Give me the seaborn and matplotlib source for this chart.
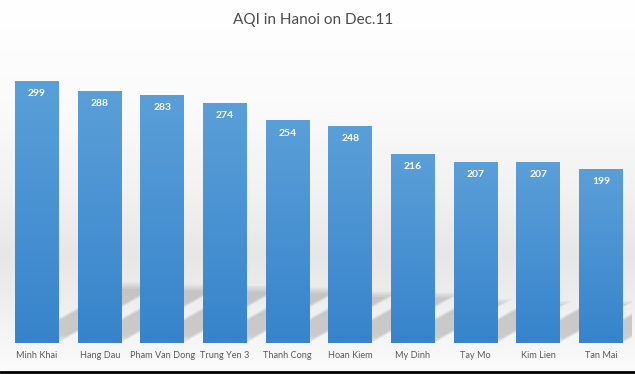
import numpy as np
import pandas as pd
import matplotlib
matplotlib.use("Agg")
import matplotlib.pyplot as plt
import seaborn as sns
from matplotlib.colors import LinearSegmentedColormap
from matplotlib.patches import Polygon

# data
stations = ["Minh Khai", "Hang Dau", "Pham Van Dong", "Trung Yen 3", "Thanh Cong",
            "Hoan Kiem", "My Dinh", "Tay Mo", "Kim Lien", "Tan Mai"]
aqi = [299, 288, 283, 274, 254, 248, 216, 207, 207, 199]
title = "AQI in Hanoi on Dec.11"

df = pd.DataFrame({"station": stations, "aqi": aqi})

sns.set_theme(style="white")
plt.rcParams["font.family"] = ["Lato", "DejaVu Sans"]

W, H = 635, 374
fig = plt.figure(figsize=(W / 100, H / 100), dpi=100)

# ---- soft grey background gradient (Excel style) ----
bg = fig.add_axes([0, 0, 1, 1], zorder=0)
bg_cmap = LinearSegmentedColormap.from_list("bg", [
    (0.00, "#ffffff"), (0.27, "#fbfbfb"), (0.53, "#f1f1f1"),
    (0.68, "#e7e7e7"), (0.78, "#ececec"), (0.91, "#f6f6f6"), (1.00, "#fbfbfb")])
bg.imshow(np.linspace(0, 1, 400)[:, None], cmap=bg_cmap, aspect="auto",
          extent=(0, 1, 0, 1))
bg.axis("off")

# ---- main axes ----
ax = fig.add_axes([5.7 / W, 31.3 / H, 626.7 / W, 297.5 / H], zorder=1)
ax.set_facecolor("none")

sns.barplot(data=df, x="station", y="aqi", ax=ax, width=0.7,
            color="#4a92d3", saturation=1, linewidth=0, zorder=3)

# vertical gradient inside each bar + long perspective shadow
bar_cmap = LinearSegmentedColormap.from_list("bar", ["#3784cc", "#5a9fd8"])
grad = np.linspace(0, 1, 200)[:, None]
for bar in list(ax.patches):
    x0, w, h = bar.get_x(), bar.get_width(), bar.get_height()
    im = ax.imshow(grad, cmap=bar_cmap, aspect="auto", origin="lower",
                   extent=(x0, x0 + w, 0, h), zorder=4)
    im.set_clip_path(bar)

    sh = 0.23 * h          # shadow height scales with the bar
    sdx = 0.00573 * h      # leaning to the upper right
    pts = np.array([[x0, 0], [x0 + w, 0], [x0 + w + sdx, sh], [x0 + sdx, sh]])
    c = pts.mean(axis=0)
    for f in [1.0, 0.93, 0.86, 0.79]:
        p = c + (pts - c) * f
        ax.add_patch(Polygon(p, closed=True, facecolor="black",
                             edgecolor="none", alpha=0.045, zorder=2))

# value labels
for i, v in enumerate(aqi):
    ax.text(i, v - 14.5, str(v), ha="center", va="center", color="white",
            fontweight="bold", fontsize=7.5, zorder=5)

ax.set_xlim(-0.5, 9.5)
ax.set_ylim(0, 340)
ax.set_xticks(range(len(stations)))
ax.set_xticklabels(stations, fontsize=6.6, color="#595959")
ax.tick_params(axis="x", length=0, pad=6.3)
ax.set_yticks([])
ax.set_xlabel("")
ax.set_ylabel("")
for s in ax.spines.values():
    s.set_visible(False)

fig.text(313 / W, 1 - 20 / H, title, ha="center", va="center",
         fontsize=11, color="#4d4d4d")

# dark rule along the bottom edge
fig.add_artist(plt.Line2D([0, 1], [2.5 / H, 2.5 / H], color="black", lw=2,
                          transform=fig.transFigure))

fig.savefig("out.png", dpi=100)
